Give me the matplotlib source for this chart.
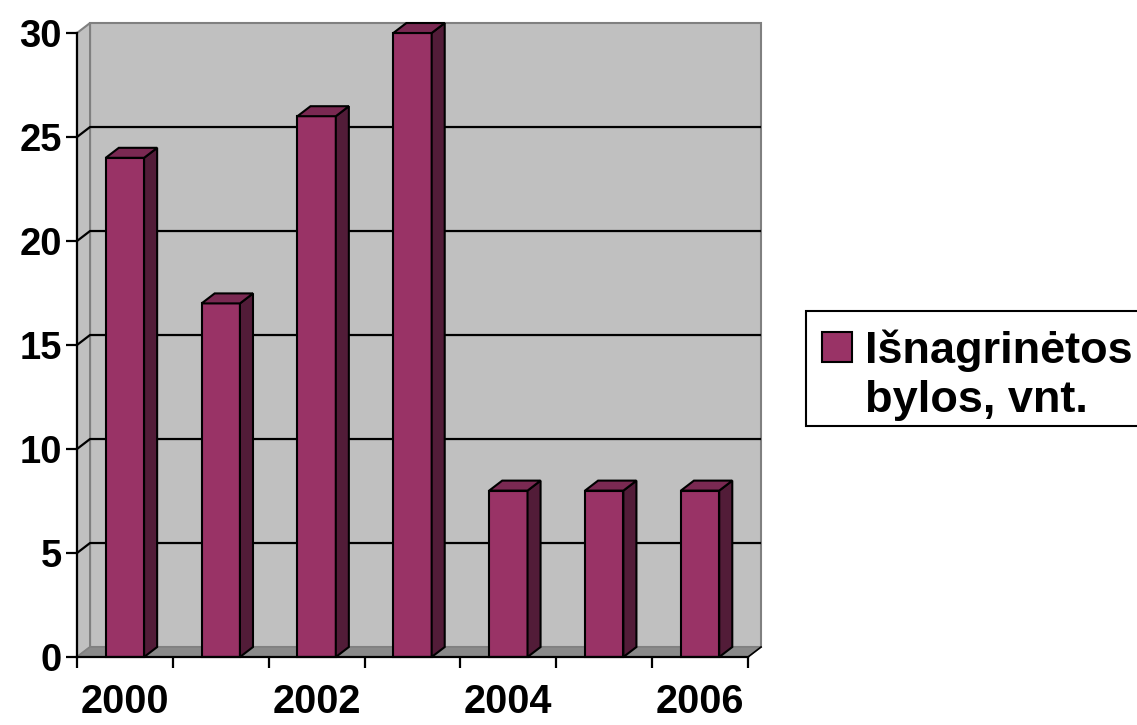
import matplotlib
matplotlib.use("Agg")
import matplotlib.pyplot as plt
from matplotlib.patches import Polygon, Rectangle

plt.rcParams['font.family'] = ['Liberation Sans', 'DejaVu Sans']
plt.rcParams['font.weight'] = 'bold'

# duomenys
years = ['2000', '2001', '2002', '2003', '2004', '2005', '2006']
cases = [24, 17, 26, 30, 8, 8, 8]
series_name = 'Išnagrinėtos\nbylos, vnt.'
y_ticks = [0, 5, 10, 15, 20, 25, 30]

FRONT = '#993366'
SIDE = '#521c38'
TOP = '#7a2952'
WALL = '#c0c0c0'
FLOOR = '#8a8a8a'
EDGE = '#808080'

W, H = 1137, 725
fig = plt.figure(figsize=(W / 100, H / 100), dpi=100)
ax = fig.add_axes([77 / W, (H - 657) / H, 671 / W, 624 / H])

n = len(years)
x0, x1 = -0.5, n - 0.5
ymax = 30
# perspektyvos poslinkis (gylis)
dx, dy = 0.136, 0.48
bw = 0.4

def poly(pts, fc, ec, lw, z):
    ax.add_patch(Polygon(pts, closed=True, facecolor=fc, edgecolor=ec,
                         linewidth=lw, zorder=z, clip_on=False))

# sienos ir grindys
poly([(x0 + dx, dy), (x1 + dx, dy), (x1 + dx, ymax + dy), (x0 + dx, ymax + dy)],
     WALL, EDGE, 1.5, 1)
poly([(x0, 0), (x0 + dx, dy), (x0 + dx, ymax + dy), (x0, ymax)], WALL, EDGE, 1.5, 1)
poly([(x0, 0), (x1, 0), (x1 + dx, dy), (x0 + dx, dy)], FLOOR, EDGE, 1.0, 2)

# tinklelio linijos ant sienų
for v in y_ticks[1:-1]:
    ax.plot([x0, x0 + dx, x1 + dx], [v, v + dy, v + dy], color='black',
            linewidth=1.6, zorder=3, clip_on=False, solid_capstyle='butt')

# stulpeliai
for i, v in enumerate(cases):
    l, r = i - bw / 2, i + bw / 2
    poly([(l, 0), (r, 0), (r, v), (l, v)], FRONT, 'black', 1.5, 5)
    poly([(r, 0), (r + dx, dy), (r + dx, v + dy), (r, v)], SIDE, 'black', 1.5, 5)
    poly([(l, v), (r, v), (r + dx, v + dy), (l + dx, v + dy)], TOP, 'black', 1.5, 5)

# dešinysis grindų kraštas
ax.plot([x1, x1 + dx], [0, dy], color='black', linewidth=1.2, zorder=4, clip_on=False)

ax.set_xlim(x0, x1)
ax.set_ylim(0, ymax)
ax.set_facecolor('none')
for s in ['top', 'right']:
    ax.spines[s].set_visible(False)
for s in ['left', 'bottom']:
    ax.spines[s].set_linewidth(1.6)
    ax.spines[s].set_zorder(6)

ax.set_yticks(y_ticks)
ax.set_yticklabels([str(t) for t in y_ticks])
ax.tick_params(axis='y', length=8, width=1.6, pad=3, labelsize=27.5)

ax.set_xticks([i - 0.5 for i in range(n + 1)])
ax.set_xticklabels([])
ax.set_xticks([0, 2, 4, 6], minor=True)
ax.set_xticklabels([years[i] for i in [0, 2, 4, 6]], minor=True)
ax.tick_params(axis='x', which='major', length=8, width=1.6)
ax.tick_params(axis='x', which='minor', length=0, pad=19, labelsize=28.5)

# legenda
def fx(p):
    return p / W

def fy(p):
    return (H - p) / H

fig.add_artist(Rectangle((fx(806), fy(426)), fx(1150) - fx(806), fy(311) - fy(426),
                         transform=fig.transFigure, facecolor='white',
                         edgecolor='black', linewidth=1.5, clip_on=False))
fig.add_artist(Rectangle((fx(822), fy(362)), fx(852) - fx(822), fy(332) - fy(362),
                         transform=fig.transFigure, facecolor=FRONT,
                         edgecolor='black', linewidth=1.5))
line1, line2 = series_name.split('\n')
fig.text(fx(865), fy(363), line1, fontsize=32.5, fontweight='bold', va='baseline')
fig.text(fx(865), fy(412), line2, fontsize=32.5, fontweight='bold', va='baseline')

fig.savefig('out.png', dpi=100)
